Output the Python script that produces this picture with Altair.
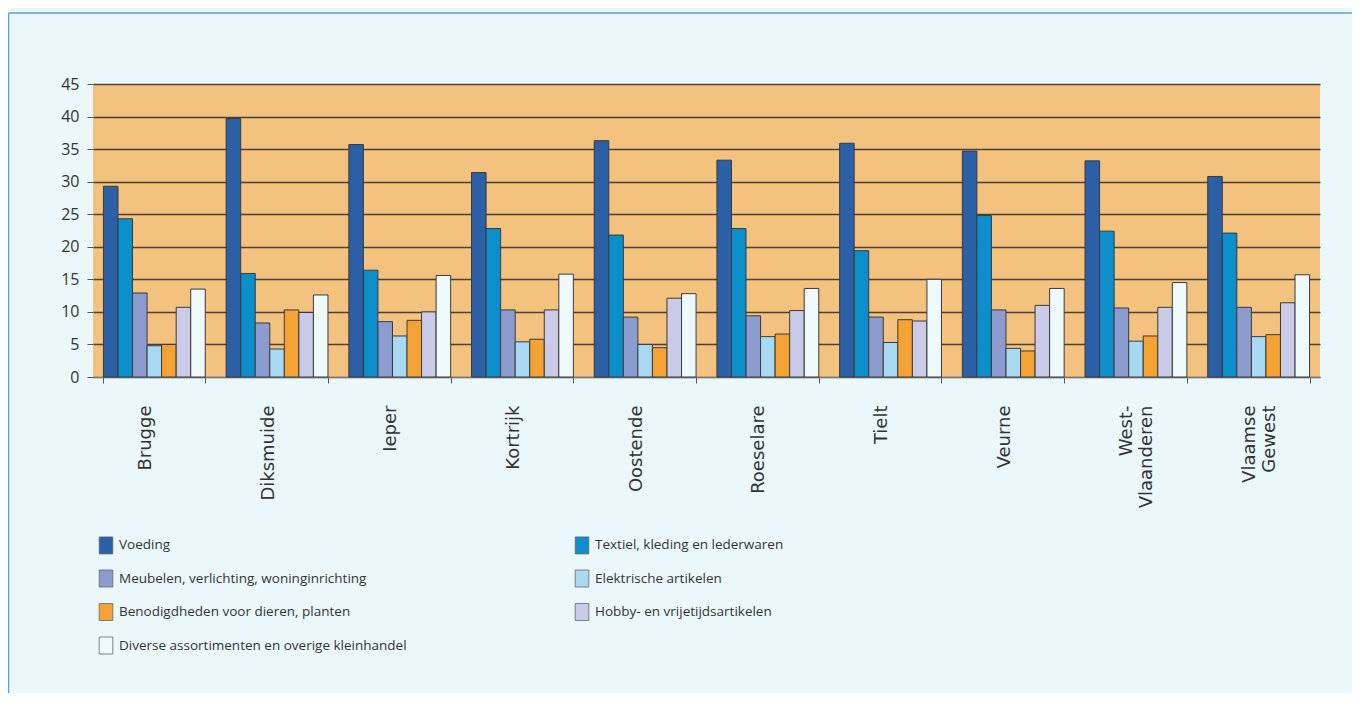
import altair as alt
import pandas as pd

categories = ["Brugge", "Diksmuide", "Ieper", "Kortrijk", "Oostende", "Roeselare",
              "Tielt", "Veurne", "West-\nVlaanderen", "Vlaamse\nGewest"]
series = ["Voeding", "Textiel, kleding en lederwaren",
          "Meubelen, verlichting, woninginrichting", "Elektrische artikelen",
          "Benodigdheden voor dieren, planten", "Hobby- en vrijetijdsartikelen",
          "Diverse assortimenten en overige kleinhandel"]
voeding = [29.3, 39.7, 35.7, 31.4, 36.3, 33.3, 35.9, 34.7, 33.2, 30.8]
textiel = [24.3, 15.9, 16.4, 22.8, 21.8, 22.8, 19.4, 24.8, 22.4, 22.1]
meubelen = [12.9, 8.3, 8.5, 10.3, 9.2, 9.4, 9.2, 10.3, 10.6, 10.7]
elektrisch = [4.8, 4.3, 6.3, 5.4, 5.0, 6.2, 5.3, 4.4, 5.5, 6.2]
benodigdheden = [5.0, 10.3, 8.7, 5.8, 4.5, 6.6, 8.8, 4.0, 6.3, 6.5]
hobby = [10.7, 9.9, 10.0, 10.3, 12.1, 10.2, 8.6, 11.0, 10.7, 11.4]
diverse = [13.5, 12.6, 15.6, 15.8, 12.8, 13.6, 15.0, 13.6, 14.5, 15.7]
colors = ["#2b5fa6", "#0b8ec9", "#8c9ccf", "#a9d9f2", "#f4a233", "#c9cbe9", "#eef9fb"]

values = [voeding, textiel, meubelen, elektrisch, benodigdheden, hobby, diverse]
rows = []
for s, vals in zip(series, values):
    for c, v in zip(categories, vals):
        rows.append({"regio": c, "sector": s, "waarde": v})
df = pd.DataFrame(rows)

bars = alt.Chart(df).mark_bar(stroke="#3a3a3a", strokeWidth=1).encode(
    x=alt.X("regio:N", sort=categories, title=None,
            scale=alt.Scale(paddingInner=0.17, paddingOuter=0.085),
            axis=alt.Axis(labelAngle=270, tickBand="extent", tickSize=6,
                          tickColor="#555555", domainColor="#777777",
                          labelFont="DejaVu Sans", labelFontSize=18,
                          labelColor="#333333", labelPadding=22,
                          labelBaseline="bottom",
                          labelExpr="split(datum.label, '\\n')",
                          labelLineHeight=20)),
    xOffset=alt.XOffset("sector:N", sort=series,
                        scale=alt.Scale(paddingInner=0, paddingOuter=0)),
    y=alt.Y("waarde:Q", title=None,
            scale=alt.Scale(domain=[0, 45]),
            axis=alt.Axis(values=list(range(0, 50, 5)), grid=True,
                          gridColor="#4d4038", gridWidth=1.3, gridOpacity=1,
                          tickSize=6, tickColor="#555555", domain=False,
                          labelFont="Open Sans", labelFontSize=16,
                          labelColor="#333333", labelPadding=8)),
    color=alt.Color("sector:N", sort=series,
                    scale=alt.Scale(domain=series, range=colors),
                    legend=alt.Legend(title=None, orient="none", legendX=4, legendY=452,
                                      columns=2, direction="horizontal",
                                      columnPadding=166, rowPadding=11.5,
                                      symbolType="M-0.8,-1H0.8V1H-0.8Z",
                                      symbolSize=289, symbolStrokeColor="#666666",
                                      symbolStrokeWidth=0.8, symbolOpacity=1,
                                      labelFont="Open Sans", labelFontSize=13.5,
                                      labelColor="#333333", labelOffset=4,
                                      labelLimit=400)),
)

frame_df = pd.DataFrame({"k": [0]})
frame_top = alt.Chart(frame_df).mark_rule(color="#5aa2cf", strokeWidth=1.5).encode(
    x=alt.value(-84.5), x2=alt.value(1262), y=alt.value(-71))
frame_left = alt.Chart(frame_df).mark_rule(color="#5aa2cf", strokeWidth=1.5).encode(
    x=alt.value(-84.5), y=alt.value(-71), y2=alt.value(612))

chart = alt.layer(bars, frame_top, frame_left).properties(
    width=1227, height=293,
    autosize=alt.AutoSizeParams(type="none"),
    padding={"left": 85, "top": 76, "right": 32, "bottom": 316},
    background="#ebf8fb",
).configure_view(fill="#f4c27f", stroke=None)

chart.save("out.html", embed_options={"renderer": "svg", "actions": False})
